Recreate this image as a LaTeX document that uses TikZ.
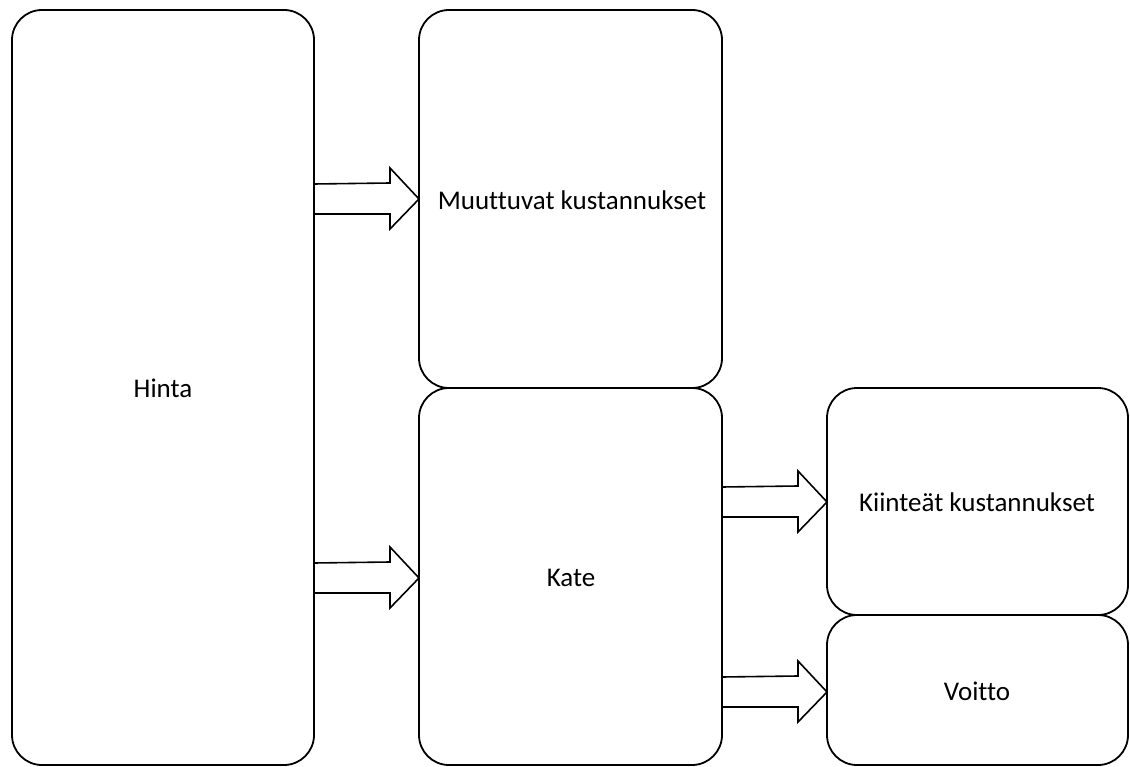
\documentclass[tikz,border=0pt]{standalone}
\usepackage{fontspec}
\setmainfont[Ligatures=NoCommon]{Carlito}
\begin{document}
\begin{tikzpicture}[x=1pt,y=-1pt,
  box/.style={draw=black,line width=1.8pt,rounded corners=30pt},
  lbl/.style={font=\fontsize{27}{31}\selectfont,text=black},
  fat/.style={draw=black,line width=1.6pt,line join=miter}]
\useasboundingbox (0,0) rectangle (1130,767);
% boxes
\draw[box] (12,10) rectangle (314,765);
\draw[box] (419,10) rectangle (722,388);
\draw[box] (419,388) rectangle (722,765);
\draw[box] (827,388) rectangle (1128,615);
\draw[box] (827,615) rectangle (1128,765);
\node[lbl] (hinta) at (163,388) {Hinta};
\node[lbl] (muut) at (572,200) {Muuttuvat kustannukset};
\node[lbl] (kate) at (571,578) {Kate};
\node[lbl] (kiint) at (977,502) {Kiinteät kustannukset};
\node[lbl] (voitto) at (977,691) {Voitto};
% block arrows: shaft from the box edge to the head, head ending at the next box
\newcommand{\blockarrow}[3]{% #1 x start, #2 centre y, #3 tip x
  \draw[fat] (#1,#2-15) -- (#3-29,#2-16) -- (#3-29,#2-31) -- (#3,#2) -- (#3-29,#2+30)
    -- (#3-29,#2+15) -- (#1,#2+15);}
\blockarrow{314}{199}{419}
\blockarrow{314}{578}{419}
\blockarrow{722}{502}{827}
\blockarrow{722}{692}{827}
\end{tikzpicture}
\end{document}
